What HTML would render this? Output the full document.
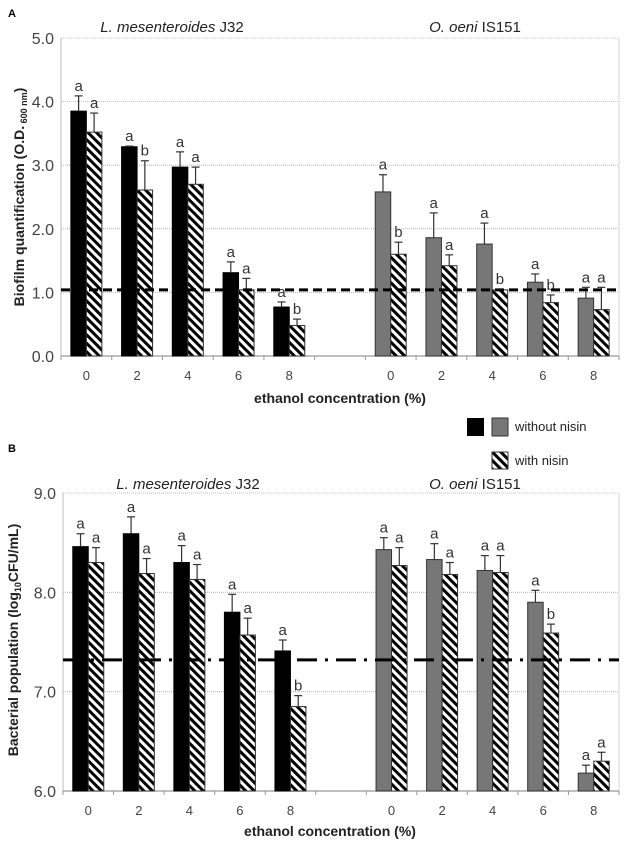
<!DOCTYPE html>
<html><head><meta charset="utf-8">
<style>
html,body{margin:0;padding:0;background:#fff;}
svg{display:block;font-family:"Liberation Sans",Arial,sans-serif;}
</style></head>
<body>
<svg id="fig" width="625" height="846" viewBox="0 0 625 846">
<defs>
<pattern id="hatch" patternUnits="userSpaceOnUse" width="6" height="6" patternTransform="rotate(45)">
<rect width="6" height="6" fill="#fff"/>
<rect x="0" y="0" width="6" height="3" fill="#000"/>
</pattern>
</defs>
<text x="8" y="17" font-size="11" font-weight="bold">A</text>
<text x="8" y="452" font-size="11" font-weight="bold">B</text>
<g>
<rect x="467" y="418" width="17" height="18" fill="#000"/>
<rect x="492" y="418" width="16" height="18" fill="#777" stroke="#333"/>
<text x="515" y="431" font-size="13" fill="#222">without nisin</text>
<rect x="492" y="452" width="16" height="17" fill="url(#hatch)" stroke="#333"/>
<text x="515" y="465" font-size="13" fill="#222">with nisin</text>
</g>
</svg>
<script>
// Panel A data
const catsA = ["0","2","4","6","8"];
const aLeuWithout = [3.85,3.29,2.97,1.31,0.77];
const aLeuWithoutErr = [4.09,3.30,3.21,1.48,0.85];
const aLeuWith = [3.52,2.61,2.70,1.04,0.48];
const aLeuWithErr = [3.82,3.07,2.97,1.22,0.58];
const aOenWithout = [2.58,1.86,1.76,1.16,0.91];
const aOenWithoutErr = [2.85,2.25,2.09,1.29,1.08];
const aOenWith = [1.60,1.42,1.04,0.84,0.73];
const aOenWithErr = [1.79,1.59,1.05,0.96,1.08];
const aLetLeuWithout = ["a","a","a","a","a"];
const aLetLeuWith = ["a","b","a","a","b"];
const aLetOenWithout = ["a","a","a","a","a"];
const aLetOenWith = ["b","a","b","b","a"];
const aTicks = [0,1,2,3,4,5];
const aThreshold = 1.04;
// Panel B data
const bLeuWithout = [8.46,8.59,8.30,7.80,7.41];
const bLeuWithoutErr = [8.59,8.76,8.47,7.98,7.52];
const bLeuWith = [8.30,8.19,8.13,7.57,6.85];
const bLeuWithErr = [8.45,8.34,8.28,7.74,6.96];
const bOenWithout = [8.43,8.33,8.22,7.90,6.18];
const bOenWithoutErr = [8.55,8.49,8.37,8.02,6.26];
const bOenWith = [8.27,8.18,8.20,7.59,6.30];
const bOenWithErr = [8.45,8.30,8.37,7.68,6.39];
const bLetLeuWithout = ["a","a","a","a","a"];
const bLetLeuWith = ["a","a","a","a","b"];
const bLetOenWithout = ["a","a","a","a","a"];
const bLetOenWith = ["a","a","a","b","a"];
const bTicks = [6,7,8,9];
const bThreshold = 7.32;

const NS = "http://www.w3.org/2000/svg";
const svg = document.getElementById('fig');
function mk(tag, attrs, parent){const e=document.createElementNS(NS,tag);for(const k in attrs)e.setAttribute(k,attrs[k]);(parent||svg).appendChild(e);return e;}

function panel(cfg){
  const g = mk('g',{});
  
  
  const x0=cfg.x0,x1=cfg.x1,yTop=cfg.yTop,yBot=cfg.yBot,vmin=cfg.vmin,vmax=cfg.vmax;
  const y = v => yBot - (v-vmin)/(vmax-vmin)*(yBot-yTop);
  const slot=(x1-x0)/11;
  const cx = i => x0 + slot*(i+0.5);
  cfg.ticks.forEach(t=>{
    if(t!==vmin){const l=mk('line',{x1:x0,x2:x1,y1:y(t),y2:y(t),stroke:'#aaa','stroke-width':0.8,'stroke-dasharray':'1,1'},g);
      
      }
    const tx=mk('text',{x:x0-7,y:y(t)+6,'font-size':16,'text-anchor':'end',fill:'#444'},g);
    tx.textContent=t.toFixed(1);
    
    
  });
  mk('line',{x1:x1,x2:x1,y1:yTop,y2:yBot,stroke:'#ccc','stroke-width':0.8},g);
  const ax=mk('line',{x1:x0,x2:x0,y1:yTop,y2:yBot,stroke:'#bbb','stroke-width':1},g);
  
  
  const bx=mk('line',{x1:x0,x2:x1,y1:yBot,y2:yBot,stroke:'#999','stroke-width':1.2},g);
  
  
  for(let i=0;i<=11;i++){mk('line',{x1:x0+slot*i,x2:x0+slot*i,y1:yBot,y2:yBot+4,stroke:'#999'},g);}
  const groups=[
    {off:0, w:cfg.lw, we:cfg.lwe, h:cfg.lh, he:cfg.lhe, lw:cfg.llw, lh:cfg.llh, fill:'#000'},
    {off:6, w:cfg.ow, we:cfg.owe, h:cfg.oh, he:cfg.ohe, lw:cfg.lolw, lh:cfg.lolh, fill:'#777'}
  ];
  const bw=15.5;
  groups.forEach(gr=>{
    gr.w.forEach((v,i)=>{
      const c=cx(i+gr.off);
      const r1=mk('rect',{x:c-bw,y:y(v),width:bw,height:yBot-y(v),fill:gr.fill,stroke:gr.fill==='#000'?'#000':'#333','stroke-width':1},g);
      
      
      const hv=gr.h[i];
      const r2=mk('rect',{x:c,y:y(hv),width:bw,height:yBot-y(hv),fill:'url(#hatch)',stroke:'#333','stroke-width':1},g);
      
      
      [[c-bw/2,v,gr.we[i],gr.lw[i]],[c+bw/2,hv,gr.he[i],gr.lh[i]]].forEach(([ex,bv,ev,lt])=>{
        const e1=mk('line',{x1:ex,x2:ex,y1:y(bv),y2:y(ev),stroke:'#333','stroke-width':1.2},g);
        
        
        mk('line',{x1:ex-4,x2:ex+4,y1:y(ev),y2:y(ev),stroke:'#333','stroke-width':1.2},g);
        const lt2=mk('text',{x:ex,y:y(ev)-5,'font-size':15,'text-anchor':'middle',fill:'#333'},g);
        lt2.textContent=lt;
        
        
      });
    });
    catsA.forEach((c,i)=>{
      const t=mk('text',{x:cx(i+gr.off),y:yBot+cfg.tickDy,'font-size':13,'text-anchor':'middle',fill:'#444'},g);
      t.textContent=c;
      
      
    });
  });
  const th=mk('line',{x1:x0,x2:x1,y1:y(cfg.thr),y2:y(cfg.thr),stroke:'#000','stroke-width':3,'stroke-dasharray':cfg.dash},g);
  
  
  const t1=mk('text',{x:cfg.t1x,y:cfg.ty,'font-size':15,'text-anchor':'middle',fill:'#222'},g);
  t1.innerHTML='<tspan font-style="italic">L. mesenteroides</tspan> J32';
  
  
  const t2=mk('text',{x:cfg.t2x,y:cfg.ty,'font-size':15,'text-anchor':'middle',fill:'#222'},g);
  t2.innerHTML='<tspan font-style="italic">O. oeni</tspan> IS151';
  
  
  const xl=mk('text',{x:cfg.xlx,y:cfg.xly,'font-size':14,'font-weight':'bold','text-anchor':'middle',fill:'#222'},g);
  xl.textContent='ethanol concentration (%)';
  
  
  const yl=mk('text',{x:0,y:0,'font-size':14,'font-weight':'bold','text-anchor':'middle',fill:'#222',transform:`translate(${cfg.ylx},${cfg.yly}) rotate(-90)`},g);
  yl.innerHTML=cfg.ytitle;
  
  
}
panel({name:'panel-a-biofilm',x0:61,x1:619,yTop:38,yBot:356,vmin:0,vmax:5,ticks:aTicks,
  lw:aLeuWithout,lwe:aLeuWithoutErr,lh:aLeuWith,lhe:aLeuWithErr,ow:aOenWithout,owe:aOenWithoutErr,oh:aOenWith,ohe:aOenWithErr,
  llw:aLetLeuWithout,llh:aLetLeuWith,lolw:aLetOenWithout,lolh:aLetOenWith,thr:aThreshold,dash:'9,5',tickDy:24,
  t1x:172,t2x:475,ty:32,xlx:340,xly:403,ylx:24,yly:197,
  ytitle:'Biofilm quantification (O.D.<tspan font-size="9" dy="3"> 600 nm</tspan><tspan dy="-3">)</tspan>'});
panel({name:'panel-b-population',x0:63,x1:619,yTop:493,yBot:791,vmin:6,vmax:9,ticks:bTicks,
  lw:bLeuWithout,lwe:bLeuWithoutErr,lh:bLeuWith,lhe:bLeuWithErr,ow:bOenWithout,owe:bOenWithoutErr,oh:bOenWith,ohe:bOenWithErr,
  llw:bLetLeuWithout,llh:bLetLeuWith,lolw:bLetOenWithout,lolh:bLetOenWith,thr:bThreshold,dash:'20,8,3,8',tickDy:24,
  t1x:188,t2x:475,ty:489,xlx:330,xly:836,ylx:18,yly:640,
  ytitle:'Bacterial population (log<tspan font-size="9" dy="3">10</tspan><tspan dy="-3">CFU/mL)</tspan>'});
</script>
</body></html>
